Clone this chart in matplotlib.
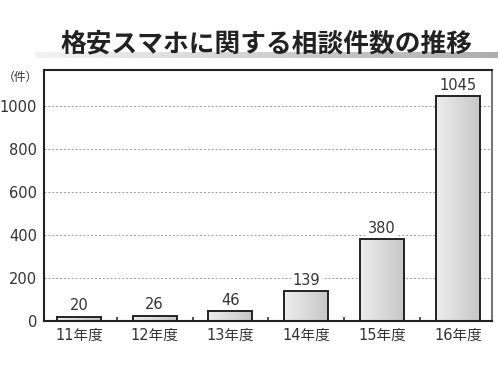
import matplotlib
matplotlib.use("Agg")
from matplotlib import pyplot as plt
import numpy as np

plt.rcParams['font.family'] = ['DejaVu Sans', 'Noto Sans CJK JP']

# data
categories = ["11年度", "12年度", "13年度", "14年度", "15年度", "16年度"]
counts = [20, 26, 46, 139, 380, 1045]
yticks = [0, 200, 400, 600, 800, 1000]

fig = plt.figure(figsize=(5, 3.76), dpi=100)

# title band with gradient (light on the left, darker to the right)
band = fig.add_axes([0.07, 0.846, 0.925, 0.017])
band.imshow(np.linspace(0.95, 0.68, 256).reshape(1, -1), cmap='gray', vmin=0, vmax=1,
            aspect='auto', extent=(0, 1, 0, 1))
band.axis('off')
fig.text(0.532, 0.882, "格安スマホに関する相談件数の推移", ha='center', va='center',
         fontsize=18.5, fontweight='bold', color='#222222', family='Noto Sans CJK JP')

ax = fig.add_axes([0.088, 0.146, 0.896, 0.668])
x = np.arange(len(categories))
width = 0.58
bars = ax.bar(x, counts, width=width, facecolor='none', edgecolor='#222222', linewidth=1.4, zorder=3)

# gradient inside each bar
grad = np.linspace(0.93, 0.78, 256).reshape(1, -1)
for b in bars:
    x0, y0 = b.get_x(), b.get_y()
    im = ax.imshow(grad, cmap='gray', vmin=0, vmax=1, aspect='auto',
                   extent=(x0, x0 + b.get_width(), y0, y0 + b.get_height()), zorder=2)
    im.set_clip_path(b)

for xi, v in zip(x, counts):
    ax.text(xi, v + 16, str(v), ha='center', va='bottom', fontsize=10.5, color='#333333',
            bbox=dict(facecolor='white', edgecolor='none', pad=1), zorder=4)

ax.set_xlim(-0.46, 5.45)
ax.set_ylim(0, 1167)
ax.set_yticks(yticks)
ax.set_yticklabels([str(t) for t in yticks], fontsize=10.5, color='#333333')
ax.set_xticks(x)
ax.set_xticklabels(categories, fontsize=10.5, color='#333333')
ax.tick_params(axis='y', length=0, pad=5)
ax.tick_params(axis='x', length=0, pad=5)
ax.set_xticks(x[:-1] + 0.5, minor=True)
ax.tick_params(axis='x', which='minor', direction='in', length=3, width=1.2, color='#333333')

ax.grid(axis='y', linestyle=(0, (2, 2)), color='#999999', linewidth=0.7, zorder=0)
ax.set_axisbelow(True)

for side in ['left', 'bottom', 'top']:
    ax.spines[side].set_color('#222222')
    ax.spines[side].set_linewidth(1.5)
ax.spines['right'].set_color('#777777')
ax.spines['right'].set_linewidth(1.5)

fig.text(0.005, 0.795, "（件）", fontsize=8.5, color='#333333', va='center',
         family='Noto Sans CJK JP')

fig.savefig("out.png", dpi=100)
